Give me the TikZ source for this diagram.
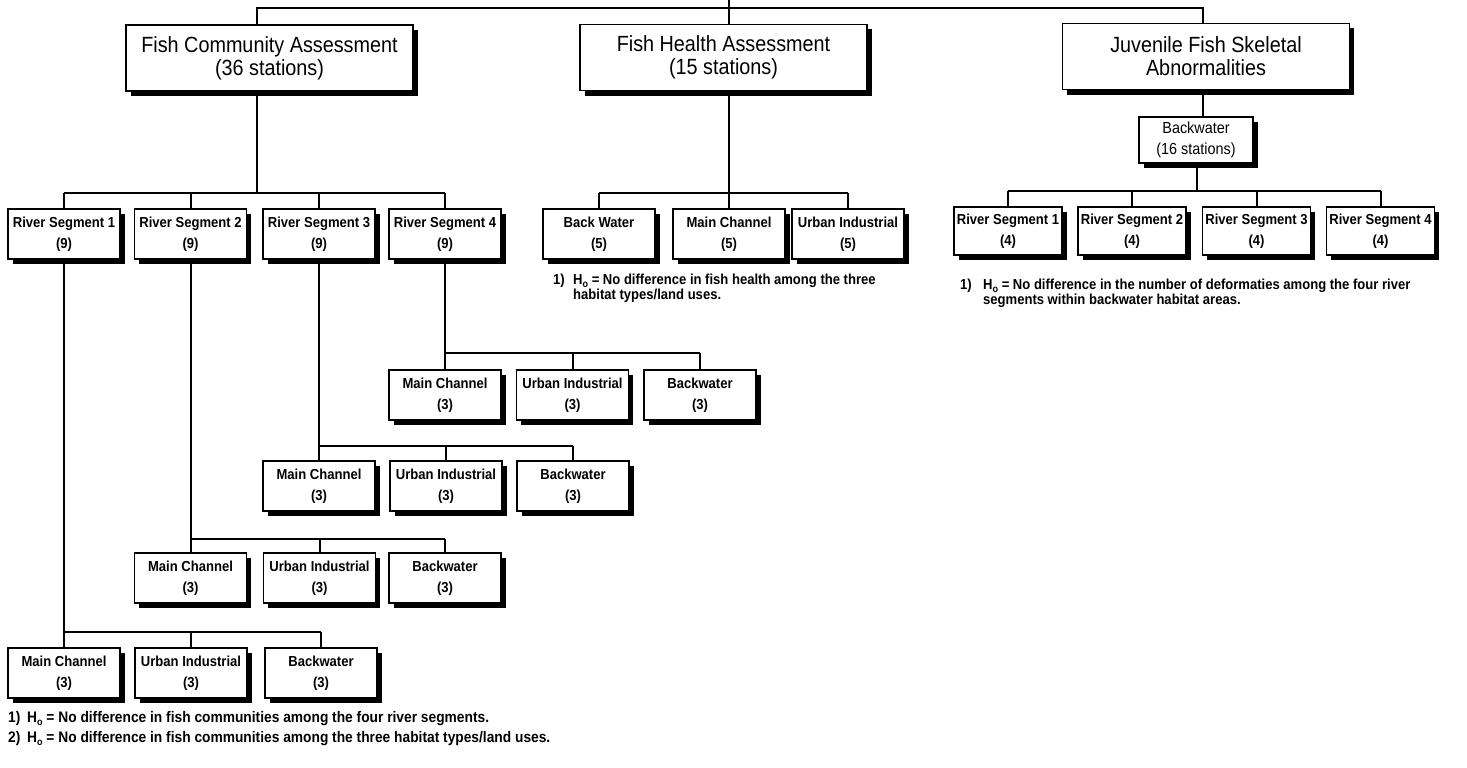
\documentclass[tikz,border=0pt]{standalone}
\usepackage{fontspec}
\setmainfont{Liberation Sans}[FakeStretch=0.9]
\usetikzlibrary{shadows}
\newcommand{\Hnull}{H\raisebox{-0.4ex}{\fontsize{10}{10}\selectfont o}}
\tikzset{
  box/.style={draw=black, line width=1.2pt, fill=white, align=center, inner sep=0pt,
    drop shadow={shadow xshift=4.5pt, shadow yshift=-5pt, fill=black, opacity=1}},
  bigbox/.style={box, minimum width=287pt, minimum height=66pt, font=\fontsize{22}{23}\selectfont},
  smallbox/.style={box, minimum width=112pt, minimum height=50pt, font=\bfseries\fontsize{14.5}{21}\selectfont},
  jbox/.style={smallbox, minimum width=108pt, minimum height=48pt},
  midbox/.style={box, minimum width=114pt, minimum height=46pt, font=\fontsize{16}{21}\selectfont},
  link/.style={line width=2pt},
  hyp/.style={anchor=north west, align=left, inner sep=0pt, font=\bfseries\fontsize{14.5}{13.5}\selectfont},
  hypb/.style={hyp, font=\bfseries\fontsize{15.3}{15}\selectfont},
}
\begin{document}
\begin{tikzpicture}[x=1pt, y=-1pt]
\useasboundingbox (0,0) rectangle (1467,768);

% top level
\node[bigbox] (fca) at (269.5,58) {Fish Community Assessment\\(36 stations)};
\node[bigbox] (fha) at (723.5,57.5) {Fish Health Assessment\\(15 stations)};
\node[bigbox] (jfs) at (1206,56.5) {Juvenile Fish Skeletal\\Abnormalities};
\node[midbox] (bw16) at (1196,140) {Backwater\\(16 stations)};

% fish community children
\node[smallbox] (rs1) at (64,234) {River Segment 1\\(9)};
\node[smallbox] (rs2) at (190.5,234) {River Segment 2\\(9)};
\node[smallbox] (rs3) at (319,234) {River Segment 3\\(9)};
\node[smallbox] (rs4) at (445,234) {River Segment 4\\(9)};

% fish health children
\node[smallbox] (hbw) at (599,234) {Back Water\\(5)};
\node[smallbox] (hmc) at (729,234) {Main Channel\\(5)};
\node[smallbox] (hui) at (848,234) {Urban Industrial\\(5)};

% juvenile children
\node[jbox] (j1) at (1008,231) {River Segment 1\\(4)};
\node[jbox] (j2) at (1132,231) {River Segment 2\\(4)};
\node[jbox] (j3) at (1256.5,231) {River Segment 3\\(4)};
\node[jbox] (j4) at (1380.5,231) {River Segment 4\\(4)};

% RS4 group
\node[smallbox] (a1) at (445,395) {Main Channel\\(3)};
\node[smallbox] (a2) at (572.5,395) {Urban Industrial\\(3)};
\node[smallbox] (a3) at (700,395) {Backwater\\(3)};
% RS3 group
\node[smallbox] (b1) at (319,486) {Main Channel\\(3)};
\node[smallbox] (b2) at (446,486) {Urban Industrial\\(3)};
\node[smallbox] (b3) at (573,486) {Backwater\\(3)};
% RS2 group
\node[smallbox] (c1) at (190.5,578) {Main Channel\\(3)};
\node[smallbox] (c2) at (319.5,578) {Urban Industrial\\(3)};
\node[smallbox] (c3) at (445,578) {Backwater\\(3)};
% RS1 group
\node[smallbox] (d1) at (64,673) {Main Channel\\(3)};
\node[smallbox] (d2) at (191,673) {Urban Industrial\\(3)};
\node[smallbox] (d3) at (321,673) {Backwater\\(3)};

% connectors: top
\coordinate (topin) at (729,0);
\coordinate (topbar) at (0,8);
\coordinate (fx) at (257,193);
\coordinate (jx) at (1203,0);
\draw[link] (topin) -- (topin |- fha.north);
\draw[link] (fx |- fca.north) -- (fx |- topbar) -- (jx |- topbar) -- (jx |- jfs.north);

% fish community
\draw[link] (fx |- fca.south) -- (fx);
\draw[link] (rs1.north |- fx) -- (rs4.north |- fx);
\foreach \n in {rs1,rs2,rs3,rs4} \draw[link] (\n.north) -- (\n.north |- fx);

% fish health
\coordinate (hx) at (729,193);
\draw[link] (hx |- fha.south) -- (hx);
\draw[link] (hbw.north |- hx) -- (hui.north |- hx);
\foreach \n in {hbw,hmc,hui} \draw[link] (\n.north) -- (\n.north |- hx);

% juvenile
\draw[link] (jx |- jfs.south) -- (jx |- bw16.north);
\coordinate (jb) at (1197,191);
\draw[link] (jb |- bw16.south) -- (jb);
\draw[link] (j1.north |- jb) -- (j4.north |- jb);
\foreach \n in {j1,j2,j3,j4} \draw[link] (\n.north) -- (\n.north |- jb);

% RS4
\coordinate (ba) at (0,353);
\draw[link] (rs4.south) -- (rs4.south |- ba);
\draw[link] (a1.north |- ba) -- (a3.north |- ba);
\foreach \n in {a1,a2,a3} \draw[link] (\n.north) -- (\n.north |- ba);
% RS3
\coordinate (bb) at (0,446);
\draw[link] (rs3.south) -- (rs3.south |- bb);
\draw[link] (b1.north |- bb) -- (b3.north |- bb);
\foreach \n in {b1,b2,b3} \draw[link] (\n.north) -- (\n.north |- bb);
% RS2
\coordinate (bc) at (0,539);
\draw[link] (rs2.south) -- (rs2.south |- bc);
\draw[link] (c1.north |- bc) -- (c3.north |- bc);
\foreach \n in {c1,c2,c3} \draw[link] (\n.north) -- (\n.north |- bc);
% RS1
\coordinate (bd) at (0,632);
\draw[link] (rs1.south) -- (rs1.south |- bd);
\draw[link] (d1.north |- bd) -- (d3.north |- bd);
\foreach \n in {d1,d2,d3} \draw[link] (\n.north) -- (\n.north |- bd);

% hypotheses
\node[hyp] (hn1) at (553,274) {1)};
\node[hyp] (ht1) at (573,274) {\Hnull{} = No difference in fish health among the three\\habitat types/land uses.};
\node[hyp] (jn1) at (960,279) {1)};
\node[hyp] (jt1) at (983,279) {\Hnull{} = No difference in the number of deformaties among the four river\\segments within backwater habitat areas.};
\node[hypb] (fn1) at (8,711) {1)};
\node[hypb] (ft1) at (27,711) {\Hnull{} = No difference in fish communities among the four river segments.};
\node[hypb] (fn2) at (8,731) {2)};
\node[hypb] (ft2) at (27,731) {\Hnull{} = No difference in fish communities among the three habitat types/land uses.};
\end{tikzpicture}
\end{document}
